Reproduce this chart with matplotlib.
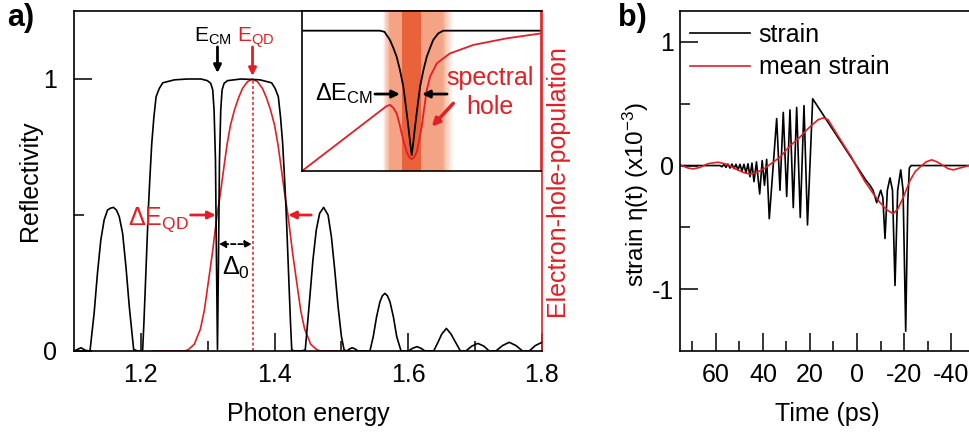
import numpy as np
import matplotlib
matplotlib.use("Agg")
import matplotlib.pyplot as plt

plt.rcParams['font.family'] = ['Liberation Sans', 'DejaVu Sans']
plt.rcParams['mathtext.fontset'] = 'custom'
plt.rcParams['mathtext.rm'] = 'Liberation Sans'
plt.rcParams['mathtext.it'] = 'Liberation Sans:italic'
plt.rcParams['mathtext.bf'] = 'Liberation Sans:bold'
plt.rcParams['axes.unicode_minus'] = False

RED = '#E31E24'

# ---- panel a: reflectivity spectrum (photon energy, reflectivity)
refl_e = [1.100, 1.1045, 1.1105, 1.1165, 1.1226, 1.1241, 1.1301, 1.1351, 1.1401,
          1.1451, 1.1501, 1.1545, 1.1591, 1.1635, 1.1677, 1.1727, 1.1777, 1.1827,
          1.1892, 1.195, 1.2005, 1.2027, 1.2045, 1.2063, 1.2088, 1.2113, 1.2138,
          1.2163, 1.2195, 1.2228, 1.2275, 1.2328, 1.2504, 1.27, 1.29, 1.2995,
          1.3045, 1.3075, 1.3095, 1.3116, 1.3131, 1.3146, 1.3161, 1.3176, 1.3195,
          1.3215, 1.3245, 1.3296, 1.35, 1.378, 1.3956, 1.4009, 1.4056, 1.4089,
          1.4121, 1.4146, 1.4171, 1.4196, 1.4221, 1.4239, 1.4257, 1.430, 1.440,
          1.4459, 1.4524, 1.4574, 1.4624, 1.4674, 1.4734, 1.480, 1.485, 1.490,
          1.495, 1.500, 1.504, 1.508, 1.5125, 1.516, 1.520, 1.525, 1.5426, 1.5476,
          1.5526, 1.5576, 1.5613, 1.565, 1.5688, 1.5726, 1.5777, 1.5827, 1.5892,
          1.600, 1.6065, 1.613, 1.619, 1.625, 1.638, 1.645, 1.650, 1.657, 1.664,
          1.670, 1.678, 1.686, 1.695, 1.704, 1.713, 1.721, 1.731, 1.741, 1.751,
          1.761, 1.771, 1.781, 1.790, 1.800]
refl_r = [0.0, 0.005, 0.012, 0.003, 0.0, 0.004, 0.139, 0.286, 0.408,
          0.482, 0.518, 0.525, 0.528, 0.518, 0.494, 0.433, 0.31, 0.163,
          0.006, 0.0, 0.0, 0.004, 0.1, 0.212, 0.37, 0.527, 0.65,
          0.763, 0.86, 0.935, 0.965, 0.986, 0.997, 1.0, 1.0, 0.994,
          0.984, 0.96, 0.886, 0.702, 0.335, 0.006, 0.335, 0.702, 0.886,
          0.96, 0.984, 0.994, 1.0, 0.997, 0.986, 0.965, 0.935, 0.86,
          0.763, 0.65, 0.527, 0.37, 0.212, 0.1, 0.004, 0.0, 0.0,
          0.004, 0.188, 0.335, 0.445, 0.506, 0.528, 0.5, 0.42, 0.298,
          0.163, 0.053, 0.004, 0.0, 0.008, 0.012, 0.008, 0.0, 0.0, 0.053,
          0.126, 0.181, 0.203, 0.212, 0.203, 0.181, 0.126, 0.053, 0.0,
          0.0, 0.01, 0.016, 0.01, 0.0, 0.0, 0.035, 0.062, 0.083, 0.062,
          0.035, 0.0, 0.0, 0.018, 0.028, 0.018, 0.0, 0.0, 0.02, 0.032,
          0.02, 0.0, 0.0, 0.02, 0.032]

# electron-hole population (normalised)
pop_e = [1.217, 1.265, 1.271, 1.280, 1.284, 1.289, 1.295, 1.299, 1.307, 1.314,
         1.319, 1.325, 1.329, 1.334, 1.340, 1.346, 1.352, 1.3595, 1.367, 1.3745,
         1.382, 1.388, 1.394, 1.400, 1.405, 1.409, 1.415, 1.420, 1.427, 1.435,
         1.439, 1.445, 1.450, 1.454, 1.463, 1.469, 1.515]
pop_n = [0.0, 0.0, 0.005, 0.025, 0.05, 0.08, 0.15, 0.22, 0.36, 0.5,
         0.58, 0.69, 0.76, 0.83, 0.886, 0.93, 0.965, 0.99, 1.0, 0.99,
         0.965, 0.93, 0.886, 0.83, 0.76, 0.69, 0.58, 0.5, 0.36, 0.22,
         0.15, 0.08, 0.05, 0.025, 0.005, 0.0, 0.0]

E_CM = 1.3146
E_QD = 1.367

# ---- inset (zoom on the cavity mode, arbitrary energy units)
ins_x = [0, 32.6, 34.5, 36.8, 38.2, 39.6, 41.0, 42.4, 43.5, 44.5, 45.3, 45.9,
         46.5, 47.3, 48.3, 49.4, 50.8, 52.2, 53.6, 54.9, 57.0, 59.1, 100]
ins_refl = [0.877, 0.877, 0.87, 0.819, 0.77, 0.714, 0.63, 0.527, 0.40, 0.277, 0.17, 0.1,
            0.17, 0.277, 0.40, 0.527, 0.63, 0.714, 0.77, 0.819, 0.86, 0.877, 0.877]
ins_px = [0, 35.4, 36.8, 38.2, 39.6, 40.7, 41.7, 42.8, 43.8, 44.9, 45.9, 47.0, 48.0,
          49.0, 50.1, 51.2, 52.2, 53.6, 56.4, 61.9, 71.7, 85.6, 100]
ins_pop = [0.0, 0.406, 0.413, 0.395, 0.36, 0.30, 0.235, 0.17, 0.12, 0.085, 0.073, 0.088, 0.12,
           0.19, 0.277, 0.40, 0.506, 0.59, 0.673, 0.735, 0.788, 0.829, 0.86]

# ---- panel b: strain vs time (ps)
strain_t = [75.3, 58.3, 57.45, 56.6, 55.74, 54.89, 54.04, 53.19, 52.34, 51.49, 50.64,
            49.79, 48.94, 48.09, 47.23, 46.38, 45.53, 44.68, 43.83, 42.77, 41.40,
            40.34, 39.36, 38.43, 37.32, 34.17, 32.77, 31.36, 29.91, 28.51, 27.11,
            25.66, 24.13, 22.55, 21.06, 18.85, -3.83, -5.53, -6.81, -8.38, -10.09,
            -11.0, -11.91, -12.9, -14.04, -15.1, -16.17, -17.3, -18.6, -19.6, -20.72,
            -21.6, -22.26, -23.0, -50.2]
strain_v = [0, 0, -0.01, 0.01, -0.015, 0.012, -0.02, 0.012, -0.025, 0.01, -0.035,
            0.01, -0.045, 0.01, -0.06, 0.015, -0.09, 0.02, -0.13, 0.03, -0.23,
            0.04, -0.16, 0.05, -0.43, 0.38, -0.2, 0.43, -0.25, 0.45, -0.34,
            0.47, -0.42, 0.485, -0.48, 0.54, -0.12, -0.16, -0.2, -0.30, -0.2,
            -0.26, -0.59, -0.2, -0.1, -0.2, -0.97, -0.2, -0.035, -0.2, -1.34,
            -0.3, -0.02, 0.0, 0.0]
mean_t = [75.3, 71.9, 69.7, 66.8, 63.4, 59.1, 55.3, 51.9, 48.5, 45.5, 43.0, 39.1,
          36.2, 32.8, 28.5, 24.3, 21.3, 18.6, 16.6, 14.3, 12.3, 9.4, 5.1, 2.3, 0.1,
          -3.4, -7.0, -9.8, -12.8, -15.4, -17.4, -19.7, -22.6, -24.7, -26.8, -29.4,
          -31.8, -34.0, -36.7, -38.7, -41.0, -43.8, -47.7, -50.2]
mean_v = [0.005, -0.02, -0.027, -0.015, 0.015, 0.027, 0.01, -0.025, -0.055, -0.07, -0.06, -0.02,
          0.02, 0.067, 0.16, 0.229, 0.29, 0.337, 0.37, 0.386, 0.37, 0.28, 0.15, 0.067, -0.013,
          -0.13, -0.23, -0.30, -0.36, -0.39, -0.35, -0.256, -0.12, -0.05, -0.013, 0.03,
          0.046, 0.03, 0.0, -0.025, -0.035, -0.02, 0.0, 0.005]

FS = 18
W, H = 969, 434
fig = plt.figure(figsize=(W / 100, H / 100), dpi=100)

# ---------------- panel a
ax = fig.add_axes([74 / W, 1 - 351 / H, 468 / W, 340 / H])
ax.plot(refl_e, refl_r, color='k', lw=1.2, zorder=3)
ax.plot(pop_e, pop_n, color=RED, lw=1.2, zorder=2)
ax.plot([E_QD, E_QD], [0, 1], color=RED, lw=1.1, ls=(0, (2, 1.5)), zorder=2)
ax.set_xlim(1.1, 1.8)
ax.set_ylim(0, 1.25)
ax.set_xticks([1.2, 1.4, 1.6, 1.8])
ax.set_xticks([1.3, 1.5, 1.7], minor=True)
ax.set_yticks([0, 1])
ax.set_yticklabels(['0', '1'])
ax.set_yticks([0.5], minor=True)
ax.tick_params(direction='in', length=13, width=1.1, labelsize=FS, pad=9,
               top=False, right=False)
ax.tick_params(axis='y', pad=12)
ax.tick_params(which='minor', direction='in', length=7, width=1.1, top=False, right=False)
for s in ax.spines.values():
    s.set_linewidth(1.2)
ax.spines['right'].set_color(RED)
ax.set_ylabel('Reflectivity', fontsize=FS)
ax.yaxis.set_label_coords(-0.068, 0.5)
ax.set_xlabel('Photon energy', fontsize=FS, va='top')
ax.xaxis.set_label_coords(0.5, -0.15)
ax.text(1.032, 0.5, 'Electron-hole-population', color=RED, fontsize=FS,
        rotation=90, ha='center', va='center', transform=ax.transAxes)

arr = dict(arrowstyle='-|>,head_length=0.45,head_width=0.22', lw=2, shrinkA=0, shrinkB=0)
ax.annotate('', xy=(E_CM, 1.022), xytext=(E_CM, 1.118),
            arrowprops=dict(arr, color='k'), annotation_clip=False)
ax.annotate('', xy=(E_QD, 1.011), xytext=(E_QD, 1.118),
            arrowprops=dict(arr, color=RED), annotation_clip=False)
ax.text(1.3075, 1.136, r'E$_{\mathrm{CM}}$', fontsize=15, ha='center', va='baseline')
ax.text(1.3722, 1.136, r'E$_{\mathrm{QD}}$', fontsize=15, ha='center', va='baseline', color=RED)

ax.annotate('', xy=(1.312, 0.5), xytext=(1.2744, 0.5), arrowprops=dict(arr, color=RED))
ax.annotate('', xy=(1.4203, 0.5), xytext=(1.4549, 0.5), arrowprops=dict(arr, color=RED))
ax.text(1.227, 0.463, r'ΔE$_{\mathrm{QD}}$', fontsize=FS, ha='center', va='baseline', color=RED)

ax.annotate('', xy=(1.3165, 0.393), xytext=(1.3662, 0.393),
            arrowprops=dict(arrowstyle='<|-|>,head_length=0.4,head_width=0.2', lw=1.3,
                            color='k', ls=(0, (2.5, 1.5)), shrinkA=0, shrinkB=0))
ax.text(1.342, 0.279, r'Δ$_{\mathrm{0}}$', fontsize=FS, ha='center', va='baseline')

fig.text(7 / W, 1 - 26 / H, 'a)', fontsize=22, fontweight='bold', va='baseline')

# ---------------- inset
ai = fig.add_axes([302 / W, 1 - 171 / H, 239 / W, 160 / H])
ai.set_xlim(0, 100)
ai.set_ylim(0, 1)
ai.set_xticks([])
ai.set_yticks([])
for s in ai.spines.values():
    s.set_linewidth(1.2)
ai.spines['right'].set_color(RED)
LIGHT = '#F4A385'
DARK = '#EA6239'
ai.axvspan(36.8, 58.4, color=LIGHT, lw=0, zorder=0)
n = 6
for i in range(n):
    a = (i + 0.5) / n
    w = (36.8 - 33.9) / n
    ai.axvspan(33.9 + i * w, 33.9 + (i + 1) * w, color=LIGHT, alpha=a, lw=0, zorder=0)
    w = (63.3 - 58.4) / n
    ai.axvspan(63.3 - (i + 1) * w, 63.3 - i * w, color=LIGHT, alpha=a, lw=0, zorder=0)
ai.axvspan(41.7, 49.8, color=DARK, lw=0, zorder=0)
ai.plot(ins_x, ins_refl, color='k', lw=1.3)
ai.plot(ins_px, ins_pop, color=RED, lw=1.3)
ai.text(5.4, 0.444, r'ΔE$_{\mathrm{CM}}$', fontsize=17, va='baseline')
ai.annotate('', xy=(41.0, 0.481), xytext=(30.5, 0.481), arrowprops=dict(arr, color='k'))
ai.annotate('', xy=(50.2, 0.481), xytext=(60.7, 0.481), arrowprops=dict(arr, color='k'))
ai.text(78.7, 0.5375, 'spectral', fontsize=FS, color=RED, ha='center', va='baseline')
ai.text(78.7, 0.356, 'hole', fontsize=FS, color=RED, ha='center', va='baseline')
ai.annotate('', xy=(54.3, 0.277), xytext=(63.3, 0.423),
            arrowprops=dict(arr, color=RED, lw=2.5))

# ---------------- panel b
bx = fig.add_axes([680 / W, 1 - 351 / H, 295 / W, 340 / H])
bx.plot(strain_t, strain_v, color='k', lw=1.2, label='strain')
bx.plot(mean_t, mean_v, color=RED, lw=1.2, label='mean strain')
bx.set_xlim(75.3, -50.2)
bx.set_ylim(-1.5, 1.25)
bx.set_xticks([60, 40, 20, 0, -20, -40])
bx.set_xticks([70, 50, 30, 10, -10, -30], minor=True)
bx.set_yticks([-1, 0, 1])
bx.set_yticks([-0.5, 0.5], minor=True)
bx.tick_params(direction='in', length=13, width=1.1, labelsize=FS, top=False, right=False)
bx.tick_params(axis='x', pad=9)
bx.tick_params(axis='y', pad=4)
bx.tick_params(which='minor', direction='in', length=7, width=1.1, top=False, right=False)
for s in bx.spines.values():
    s.set_linewidth(1.2)
bx.set_xlabel('Time (ps)', fontsize=FS, va='top')
bx.xaxis.set_label_coords(0.498, -0.15)
bx.set_ylabel('strain η(t) (x10$^{-3}$)', fontsize=17.5)
bx.yaxis.set_label_coords(-0.097, 0.46)
bx.legend(loc='upper left', bbox_to_anchor=(-0.017, 1.01), frameon=False, fontsize=FS,
          handlelength=2.4, handletextpad=0.35, labelspacing=0.35, borderaxespad=0.2)
fig.text(618 / W, 1 - 26 / H, 'b)', fontsize=22, fontweight='bold', va='baseline')

fig.savefig('out.png', dpi=100)
